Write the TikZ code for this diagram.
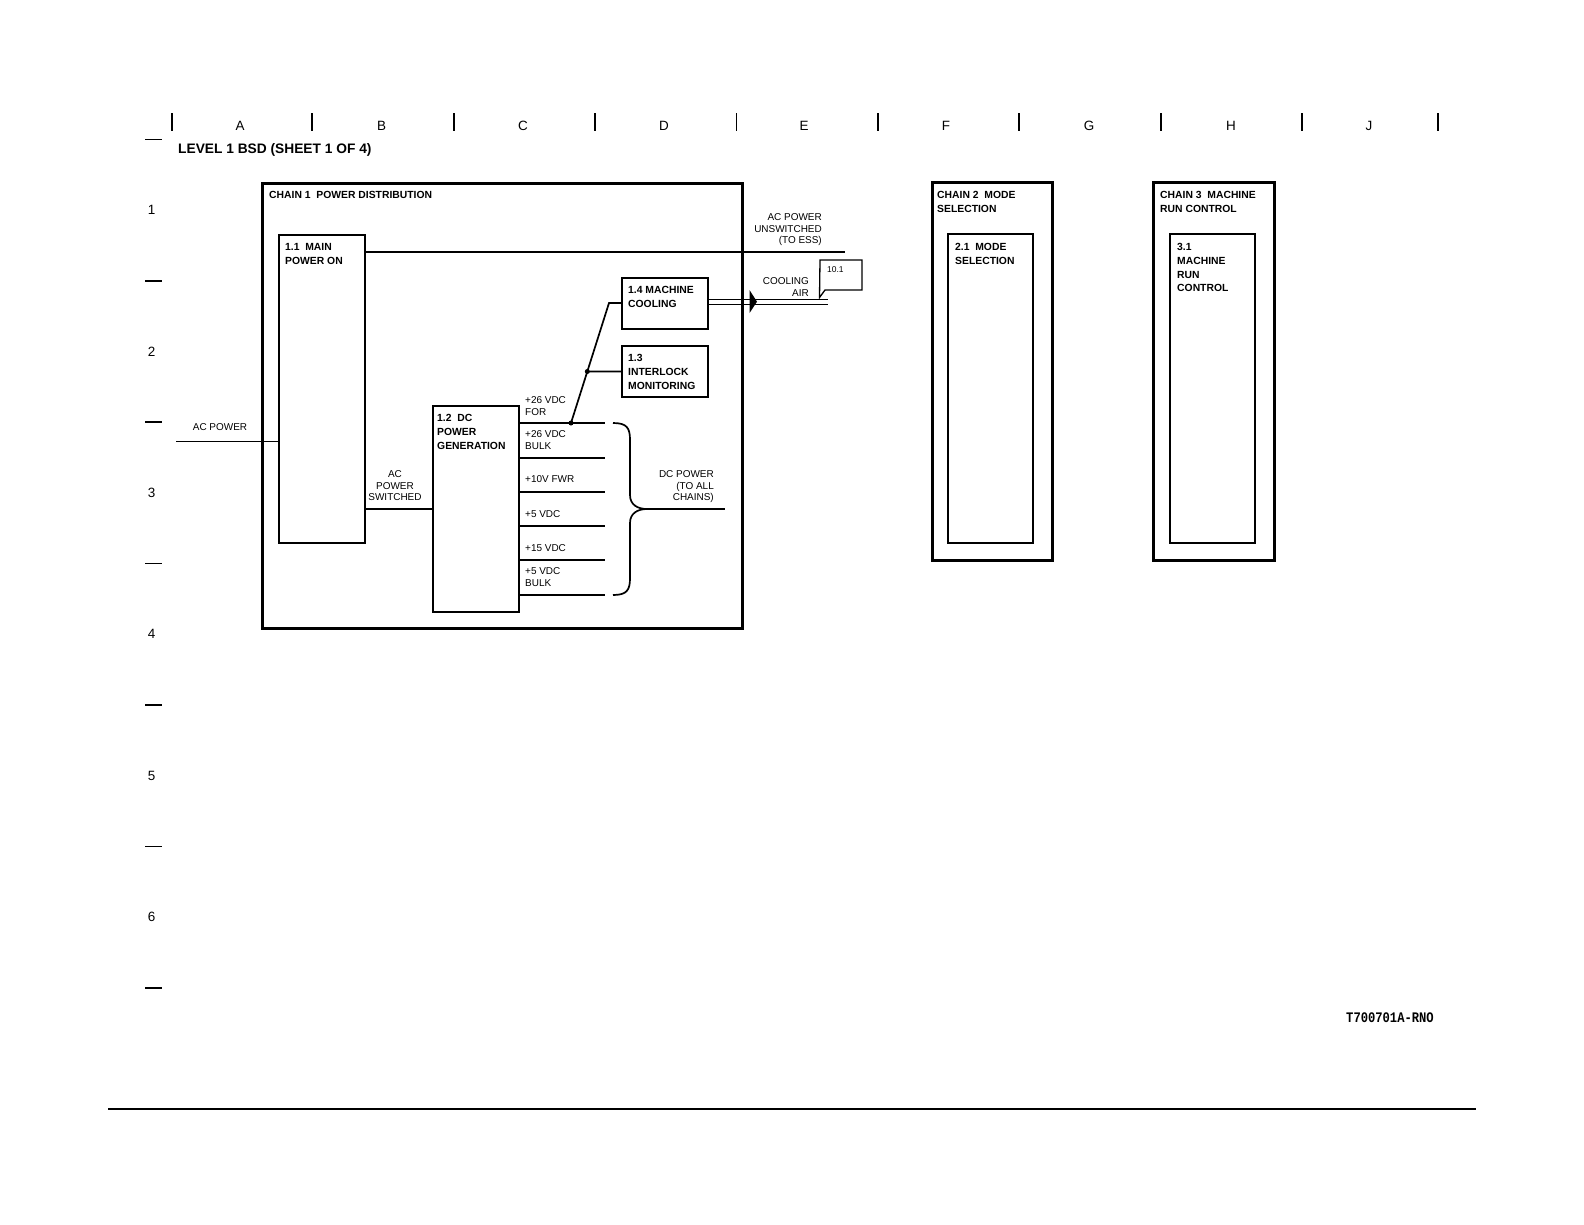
\documentclass[tikz,border=0pt]{standalone}
\usepackage{fontspec}
\usepackage{graphicx}
\setmainfont{Liberation Sans}
\newfontfamily\monob{Liberation Mono}
\begin{document}
\begin{tikzpicture}[x=1bp,y=-1bp,
  chainbox/.style={draw, line width=3bp, rectangle, inner sep=0, outer sep=0, anchor=north west},
  blockbox/.style={draw, line width=2bp, rectangle, inner sep=0, outer sep=0, anchor=north west},
  wire/.style={line width=1.7bp},
  blbl/.style={inner sep=0, align=left, anchor=north west, font=\fontsize{10.4}{13.7}\selectfont\bfseries},
  rlbl/.style={inner sep=0, font=\fontsize{10}{11.5}\selectfont},
  hdr/.style={inner sep=0, font=\fontsize{13.5}{14}\selectfont},
  ticks/.style={line width=1.8bp},
  jdot/.style={circle, fill, inner sep=0, minimum size=5bp}
]
\useasboundingbox[fill=white] (0,0) rectangle (1584,1224);

% ---------- header ruler ----------
\foreach \xx in {171.7,312.2,453.6,595,736.5,877.9,1019.3,1161,1302,1438}
  \draw[ticks] (\xx,113) -- (\xx,131);
\foreach \xx/\ll in {240/A,381.5/B,523/C,664/D,804/E,946/F,1089/G,1231/H,1369/J}
  \node[hdr] (col\ll) at (\xx,126) {\ll};
\foreach \yy in {139.4,280.8,422.2,563.6,705,846.4,987.8}
  \draw[line width=1.6bp] (145,\yy) -- (162,\yy);
\foreach \yy/\nn in {210/1,351.4/2,492.8/3,634.2/4,775.6/5,917/6}
  \node[hdr] (row\nn) at (151.5,\yy) {\nn};
\node[inner sep=0, anchor=base west, font=\fontsize{13.8}{14}\selectfont\bfseries] (title) at (178,153.5) {LEVEL 1 BSD (SHEET 1 OF 4)};

% ---------- chain 1 ----------
\node[chainbox, minimum width=480bp, minimum height=445bp] (c1) at (262,183) {};
\node[blbl] (c1t) at (269,191.4) {CHAIN 1~~POWER DISTRIBUTION};

\node[blockbox, minimum width=86bp, minimum height=308bp] (b11) at (279,235) {};
\node[blbl] (b11t) at (285,243.4) {1.1~~MAIN\\POWER ON};

\node[blockbox, minimum width=86bp, minimum height=51bp] (b14) at (622,278) {};
\node[blbl] (b14t) at (628,286.4) {1.4 MACHINE\\COOLING};

\node[blockbox, minimum width=86bp, minimum height=51bp] (b13) at (622,346) {};
\node[blbl] (b13t) at (628,354.4) {1.3\\INTERLOCK\\MONITORING};

\node[blockbox, minimum width=86bp, minimum height=206bp] (b12) at (433,406) {};
\node[blbl] (b12t) at (437,414.4) {1.2~~DC\\POWER\\GENERATION};

% AC power unswitched
\coordinate (essend) at (845,252);
\draw[wire] (b11.east |- essend) -- (essend);
\node[rlbl, align=right, anchor=north east] (essl) at (822,213.4) {AC POWER\\UNSWITCHED\\(TO ESS)};

% AC power in
\coordinate (acin) at (176,441.5);
\draw[wire] (acin) -- (b11.west |- acin);
\node[rlbl, anchor=base] (acinl) at (220,430.6) {AC POWER};

% AC power switched
\coordinate (acsw) at (400,509);
\draw[wire] (b11.east |- acsw) -- (b12.west |- acsw);
\node[rlbl, align=center, anchor=north] (acswl) at (395,470.4) {AC\\POWER\\SWITCHED};

% DC outputs
\coordinate (o1) at (605,423);
\coordinate (o2) at (605,458);
\coordinate (o3) at (605,492);
\coordinate (o4) at (605,526);
\coordinate (o5) at (605,560);
\coordinate (o6) at (605,595);
\foreach \k in {1,...,6} \draw[wire] (b12.east |- o\k) -- (o\k);
\node[rlbl, align=left, anchor=north west] (l1) at (525,396.4) {+26 VDC\\FOR};
\node[rlbl, align=left, anchor=north west] (l2) at (525,430.4) {+26 VDC\\BULK};
\node[rlbl, anchor=base west] (l3) at (525,482.6) {+10V FWR};
\node[rlbl, anchor=base west] (l4) at (525,517.6) {+5 VDC};
\node[rlbl, anchor=base west] (l5) at (525,551.6) {+15 VDC};
\node[rlbl, align=left, anchor=north west] (l6) at (525,567.4) {+5 VDC\\BULK};

% +26 VDC for cooling / interlock
\coordinate (kink) at (609,303);
\coordinate (j26) at (571,423);
\coordinate (jint) at (587.3,371.5);
\draw[wire] (b14.west |- kink) -- (kink) -- (j26);
\draw[wire] (jint) -- (b13.west);
\node[jdot] (d1) at (j26) {};
\node[jdot] (d2) at (jint) {};

% brace
\coordinate (dcout) at (725,509);
\draw[wire] (613,423) .. controls (627,423) and (630,428) .. (630,440) -- (630,495)
  .. controls (630,505) and (638,509) .. (647,509)
  .. controls (638,509) and (630,513) .. (630,523) -- (630,578)
  .. controls (630,590) and (627,595) .. (613,595);
\draw[wire] (647,509) -- (dcout);
\node[rlbl, align=right, anchor=north east] (dcl) at (714,470.4) {DC POWER\\(TO ALL\\CHAINS)};

% cooling air
\coordinate (ca1) at (828,299.3);
\coordinate (ca2) at (828,304.2);
\draw[line width=1.3bp] (b14.east |- ca1) -- (ca1);
\draw[line width=1.3bp] (b14.east |- ca2) -- (ca2);
\fill (749.5,290) -- (757,301.7) -- (749.5,313) -- cycle;
\node[rlbl, align=right, anchor=north east] (cal) at (809,277.4) {COOLING\\AIR};
\draw[line width=1.3bp] (820,260) -- (862,260) -- (862,290) -- (825,290) -- (819.5,297.5) -- cycle;
\node[inner sep=0, anchor=base west, font=\fontsize{8.5}{10}\selectfont] (ref101) at (827,272.5) {10.1};

% ---------- chain 2 ----------
\node[chainbox, minimum width=120bp, minimum height=378bp] (c2) at (932,182) {};
\node[blbl] (c2t) at (937,191.4) {CHAIN 2~~MODE\\SELECTION};
\node[blockbox, minimum width=85bp, minimum height=309bp] (b21) at (948,234) {};
\node[blbl] (b21t) at (955,243.4) {2.1~~MODE\\SELECTION};

% ---------- chain 3 ----------
\node[chainbox, minimum width=121bp, minimum height=378bp] (c3) at (1153,182) {};
\node[blbl] (c3t) at (1160,191.4) {CHAIN 3~~MACHINE\\RUN CONTROL};
\node[blockbox, minimum width=85bp, minimum height=309bp] (b31) at (1170,234) {};
\node[blbl] (b31t) at (1177,243.4) {3.1\\MACHINE\\RUN\\CONTROL};

% ---------- footer ----------
\node[inner sep=0, anchor=west, font=\fontsize{12.2}{13}\selectfont\monob\bfseries] (figid) at (1346,1018) {\scalebox{1}[1.2]{T700701A-RNO}};
\draw[line width=1.5bp] (108,1109) -- (1476,1109);
\end{tikzpicture}
\end{document}
